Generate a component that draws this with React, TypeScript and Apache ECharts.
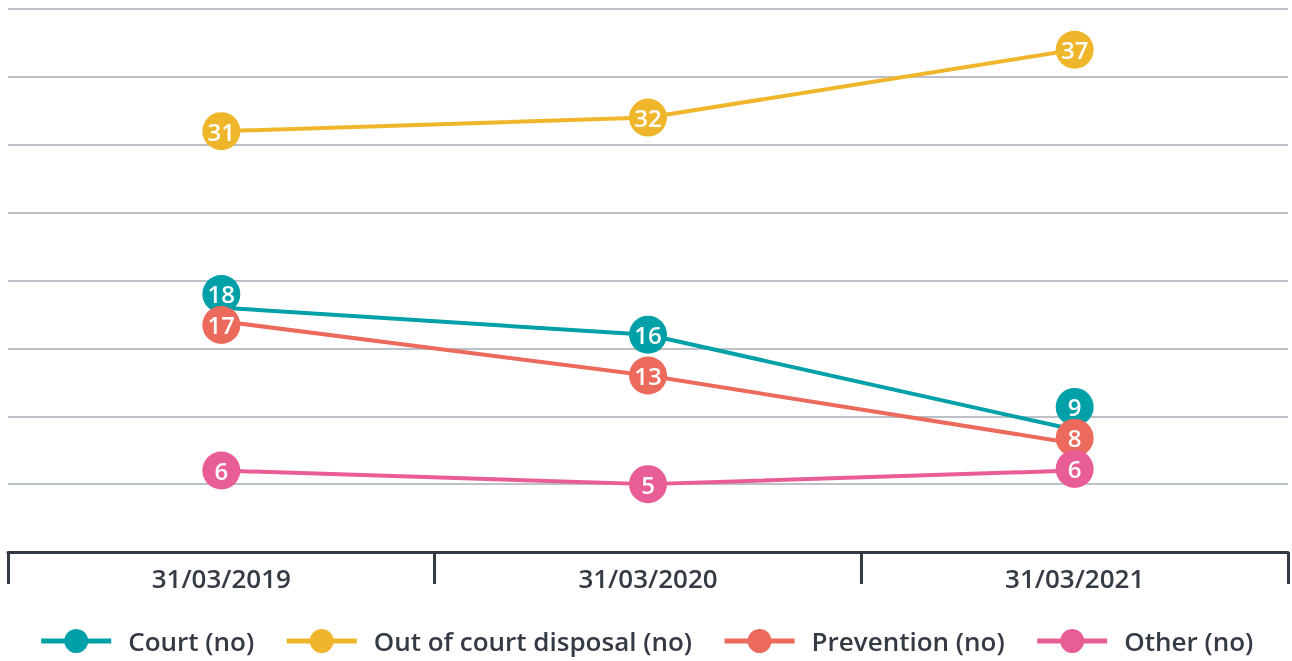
import React, { useEffect, useRef } from "react";
import * as echarts from "echarts";

const categories = ["31/03/2019", "31/03/2020", "31/03/2021"];
const seriesNames = ["Court (no)", "Out of court disposal (no)", "Prevention (no)", "Other (no)"];
const court = [18, 16, 9];
const outOfCourt = [31, 32, 37];
const prevention = [17, 13, 8];
const other = [6, 5, 6];
const colors = ["#00A0A8", "#F0B62B", "#EC6A5C", "#E95D96"];

const FONT = "'Open Sans', 'Noto Sans', sans-serif";
const MARKER = 38;
const MIN_GAP = 31;

// spread overlapping markers in a column apart (like the original's label collision handling)
function spread(ys: number[]): number[] {
  const order = ys.map((y, i) => i).sort((a, b) => ys[a] - ys[b]);
  type Cl = { idx: number[]; center: number };
  let clusters: Cl[] = order.map((i) => ({ idx: [i], center: ys[i] }));
  const pos = (c: Cl) => c.idx.map((_, k) => c.center + (k - (c.idx.length - 1) / 2) * MIN_GAP);
  let changed = true;
  while (changed) {
    changed = false;
    for (let k = 0; k < clusters.length - 1; k++) {
      const a = clusters[k];
      const b = clusters[k + 1];
      const pa = pos(a);
      const pb = pos(b);
      if (pa[pa.length - 1] + MIN_GAP > pb[0]) {
        const idx = a.idx.concat(b.idx);
        const center = idx.reduce((s, i) => s + ys[i], 0) / idx.length - (idx.length - 1) * 5;
        clusters.splice(k, 2, { idx, center });
        changed = true;
        break;
      }
    }
  }
  const out = ys.slice();
  clusters.forEach((c) => {
    const p = pos(c);
    c.idx.forEach((i, k) => (out[i] = p[k]));
  });
  return out;
}

export default function App() {
  const ref = useRef<HTMLDivElement>(null);
  useEffect(() => {
    document.body.style.margin = "0";
    const chart = echarts.init(ref.current!, null, { renderer: "svg" });
    const values = [court, outOfCourt, prevention, other];
    chart.setOption({
      animation: false,
      textStyle: { fontFamily: FONT },
      grid: { left: 8, right: 4, top: 9, bottom: 109, containLabel: false },
      xAxis: {
        type: "category",
        data: categories,
        boundaryGap: true,
        axisLine: { lineStyle: { color: "#343B45", width: 3 } },
        axisTick: { show: true, length: 32, lineStyle: { color: "#343B45", width: 3 } },
        axisLabel: { margin: 13, fontSize: 26, color: "#343B45", fontFamily: FONT, fontWeight: 600 },
      },
      yAxis: {
        type: "value",
        min: 0,
        max: 40,
        interval: 5,
        axisLabel: { show: false },
        axisLine: { show: false },
        axisTick: { show: false },
        splitLine: { lineStyle: { color: "#BCC1C8", width: 2 } },
      },
      legend: {
        data: seriesNames,
        top: 626,
        left: "center",
        padding: 0,
        itemWidth: 70,
        itemHeight: 30,
        itemGap: 30,
        lineStyle: { width: 5 },
        textStyle: {
          fontSize: 26,
          lineHeight: 30,
          color: "#343B45",
          fontFamily: FONT,
          fontWeight: 600,
          padding: [0, 0, 0, 12],
        },
      },
      series: seriesNames.map((name, i) => ({
        name,
        type: "line",
        data: values[i],
        color: colors[i],
        symbol: "circle",
        symbolSize: 2,
        lineStyle: { width: 4, color: colors[i] },
        itemStyle: { color: colors[i] },
        z: 2 + i,
        label: {
          show: true,
          position: "inside",
          color: "#FFFFFF",
          fontSize: 24,
          fontWeight: 600,
          fontFamily: FONT,
          backgroundColor: colors[i],
          borderRadius: MARKER / 2,
          width: MARKER,
          height: MARKER,
          lineHeight: MARKER,
          align: "center",
          verticalAlign: "middle",
          padding: 0,
        },
      })),
    });

    // compute pixel positions through the axis scale, then shift overlapping markers
    const dy: number[][] = values.map((v) => v.map(() => 0));
    categories.forEach((_, j) => {
      const ys = values.map((v, i) => (chart.convertToPixel({ seriesIndex: i }, [j, v[j]]) as number[])[1]);
      const moved = spread(ys);
      ys.forEach((y, i) => (dy[i][j] = moved[i] - y));
    });
    chart.setOption({
      series: seriesNames.map(() => ({
        labelLayout: (p: any) => ({ dy: dy[p.seriesIndex][p.dataIndex] }),
      })),
    });
    return () => chart.dispose();
  }, []);
  return <div ref={ref} style={{ position: "fixed", left: 0, top: 0, width: 1292, height: 661 }} />;
}
